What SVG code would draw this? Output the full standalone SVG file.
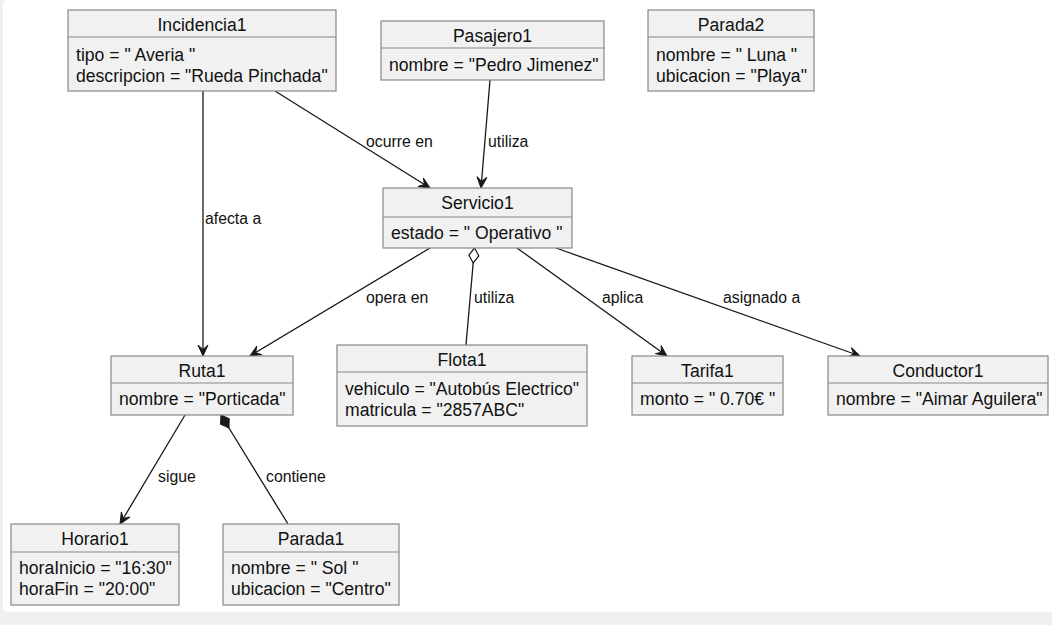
<svg xmlns="http://www.w3.org/2000/svg" width="1052" height="625" viewBox="0 0 1052 625">
<style>
.box{fill:#f1f1f1;stroke:#888888;stroke-width:1.2}
.div{stroke:#888888;stroke-width:1.2}
.t{font-family:"Liberation Sans",Arial,sans-serif;font-size:17.6px;fill:#111}
.c{text-anchor:middle}
.lbl{font-family:"Liberation Sans",Arial,sans-serif;font-size:15.8px;fill:#111}
.ln{stroke:#181818;stroke-width:1.3;fill:none}
</style>
<defs>
<marker id="arr" markerUnits="userSpaceOnUse" viewBox="-12 -6 14 12" refX="0" refY="0" markerWidth="14" markerHeight="12" orient="auto">
<path d="M0,0 L-11,-5 L-6.5,0 L-11,5 Z" fill="#181818" stroke="#181818" stroke-width="1" stroke-linejoin="miter"/>
</marker>
<marker id="odia" markerUnits="userSpaceOnUse" viewBox="-1 -7 18 14" refX="0" refY="0" markerWidth="18" markerHeight="14" orient="auto">
<path d="M0,0 L7.5,-5 L15,0 L7.5,5 Z" fill="#ffffff" stroke="#181818" stroke-width="1.2"/>
</marker>
<marker id="fdia" markerUnits="userSpaceOnUse" viewBox="-1 -7 18 14" refX="0" refY="0" markerWidth="18" markerHeight="14" orient="auto">
<path d="M0,0 L7.5,-5 L15,0 L7.5,5 Z" fill="#181818" stroke="#181818" stroke-width="1.2"/>
</marker>
</defs>
<rect x="0" y="0" width="1052" height="625" fill="#f0f0f0"/>
<rect x="3" y="0" width="1060" height="612" rx="5" fill="#ffffff"/>

<g id="connectors">
<line class="ln" x1="203" y1="91" x2="203" y2="356" marker-end="url(#arr)"/>
<text class="lbl" x="205" y="224">afecta a</text>
<line class="ln" x1="275" y1="91" x2="430" y2="188" marker-end="url(#arr)"/>
<text class="lbl" x="366" y="147">ocurre en</text>
<line class="ln" x1="490" y1="80" x2="481" y2="188" marker-end="url(#arr)"/>
<text class="lbl" x="488" y="147">utiliza</text>
<line class="ln" x1="430" y1="248" x2="250" y2="356" marker-end="url(#arr)"/>
<text class="lbl" x="366" y="303">opera en</text>
<line class="ln" x1="474.5" y1="248" x2="466" y2="345" marker-start="url(#odia)"/>
<text class="lbl" x="474" y="303">utiliza</text>
<line class="ln" x1="517" y1="248" x2="667" y2="356" marker-end="url(#arr)"/>
<text class="lbl" x="602" y="303">aplica</text>
<line class="ln" x1="556" y1="248" x2="860" y2="356" marker-end="url(#arr)"/>
<text class="lbl" x="723" y="303">asignado a</text>
<line class="ln" x1="185" y1="415" x2="120" y2="524" marker-end="url(#arr)"/>
<text class="lbl" x="158" y="482">sigue</text>
<line class="ln" x1="221" y1="415" x2="288" y2="524" marker-start="url(#fdia)"/>
<text class="lbl" x="266" y="482">contiene</text>
</g>

<g id="Incidencia1">
<rect class="box" x="68" y="10" width="268" height="81"/>
<line class="div" x1="68" y1="37" x2="336" y2="37"/>
<text class="t c" x="202" y="31">Incidencia1</text>
<text class="t" x="76" y="61">tipo = " Averia "</text>
<text class="t" x="76" y="82">descripcion = "Rueda Pinchada"</text>
</g>
<g id="Pasajero1">
<rect class="box" x="381" y="21" width="223" height="59"/>
<line class="div" x1="381" y1="48" x2="604" y2="48"/>
<text class="t c" x="492.5" y="42">Pasajero1</text>
<text class="t" x="389" y="71">nombre = "Pedro Jimenez"</text>
</g>
<g id="Parada2">
<rect class="box" x="648" y="10" width="166" height="81"/>
<line class="div" x1="648" y1="37" x2="814" y2="37"/>
<text class="t c" x="731" y="31">Parada2</text>
<text class="t" x="656" y="61">nombre = " Luna "</text>
<text class="t" x="656" y="82">ubicacion = "Playa"</text>
</g>
<g id="Servicio1">
<rect class="box" x="383" y="188" width="189" height="60"/>
<line class="div" x1="383" y1="217" x2="572" y2="217"/>
<text class="t c" x="477.5" y="209">Servicio1</text>
<text class="t" x="391" y="239">estado = " Operativo "</text>
</g>
<g id="Ruta1">
<rect class="box" x="111" y="356" width="182" height="59"/>
<line class="div" x1="111" y1="383" x2="293" y2="383"/>
<text class="t c" x="202" y="377">Ruta1</text>
<text class="t" x="119" y="405">nombre = "Porticada"</text>
</g>
<g id="Flota1">
<rect class="box" x="337" y="345" width="250" height="81"/>
<line class="div" x1="337" y1="372" x2="587" y2="372"/>
<text class="t c" x="462" y="366">Flota1</text>
<text class="t" x="345" y="395">vehiculo = "Autobús Electrico"</text>
<text class="t" x="345" y="416">matricula = "2857ABC"</text>
</g>
<g id="Tarifa1">
<rect class="box" x="632" y="356" width="151" height="59"/>
<line class="div" x1="632" y1="383" x2="783" y2="383"/>
<text class="t c" x="707.5" y="377">Tarifa1</text>
<text class="t" x="640" y="405">monto = " 0.70€ "</text>
</g>
<g id="Conductor1">
<rect class="box" x="828" y="356" width="220" height="59"/>
<line class="div" x1="828" y1="383" x2="1048" y2="383"/>
<text class="t c" x="938" y="377">Conductor1</text>
<text class="t" x="836" y="405">nombre = "Aimar Aguilera"</text>
</g>
<g id="Horario1">
<rect class="box" x="11" y="524" width="168" height="81"/>
<line class="div" x1="11" y1="552" x2="179" y2="552"/>
<text class="t c" x="95" y="545">Horario1</text>
<text class="t" x="19" y="574">horaInicio = "16:30"</text>
<text class="t" x="19" y="595">horaFin = "20:00"</text>
</g>
<g id="Parada1">
<rect class="box" x="223" y="524" width="176" height="81"/>
<line class="div" x1="223" y1="552" x2="399" y2="552"/>
<text class="t c" x="311" y="545">Parada1</text>
<text class="t" x="231" y="574">nombre = " Sol "</text>
<text class="t" x="231" y="595">ubicacion = "Centro"</text>
</g>
</svg>
